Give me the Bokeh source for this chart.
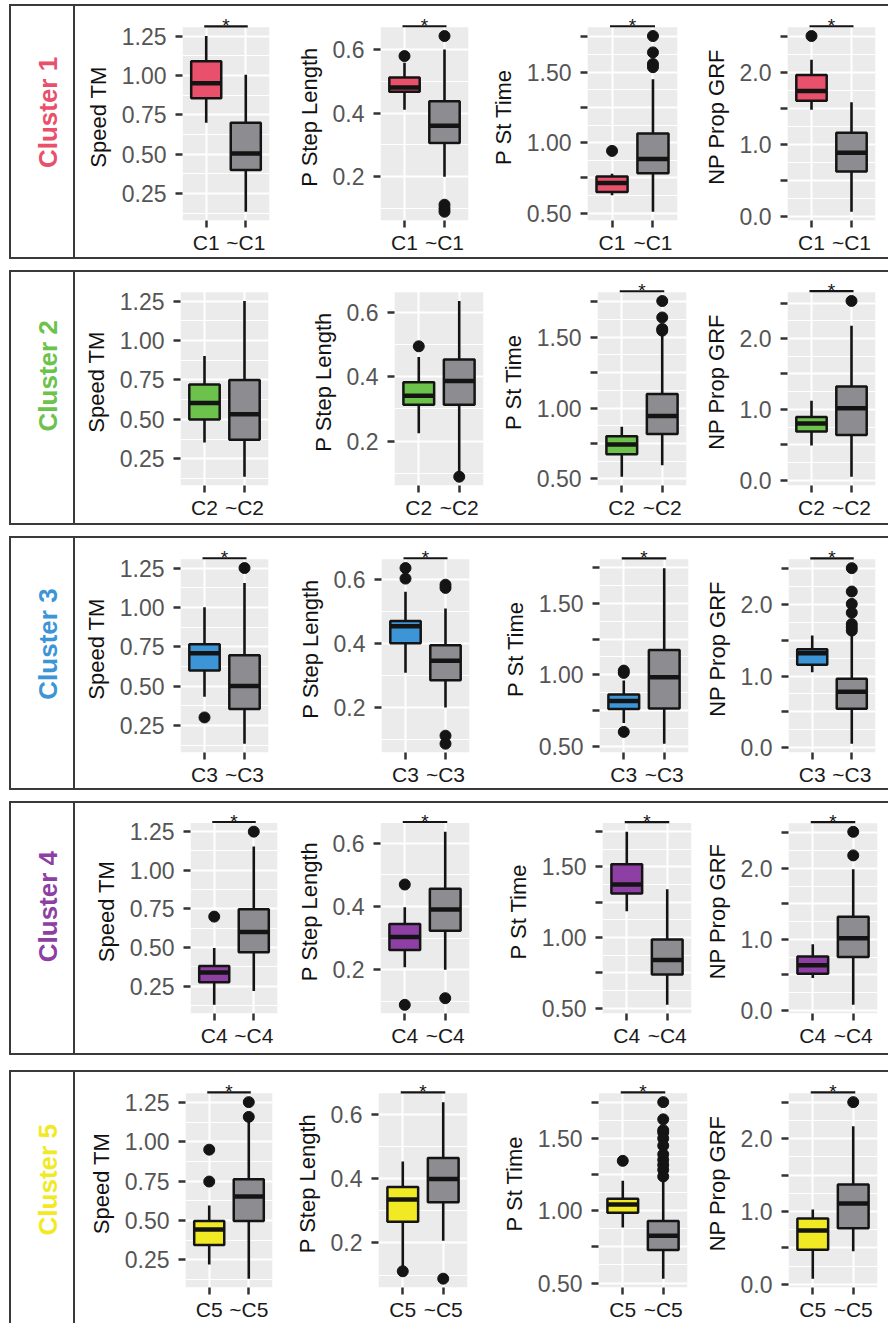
import math
from bokeh.plotting import figure
from bokeh.layouts import row, column
from bokeh.models import (Range1d, FixedTicker, CustomJSTickFormatter, Spacer,
                          BoxAnnotation, ColumnDataSource)
from bokeh.core.properties import value
from bokeh.embed import file_html
from bokeh.resources import INLINE
from bokeh.core.validation import silence
from bokeh.core.validation.warnings import MISSING_RENDERERS

silence(MISSING_RENDERERS, True)

# ---------------------------------------------------------------- data
clusters = ["Cluster 1", "Cluster 2", "Cluster 3", "Cluster 4", "Cluster 5"]
cluster_colors = ["#E8506B", "#6CC24A", "#3C95D6", "#8E3FA3", "#F2E925"]
rest_color = "#8C8C91"
group_labels = [["C1", "~C1"], ["C2", "~C2"], ["C3", "~C3"], ["C4", "~C4"], ["C5", "~C5"]]
variables = ["Speed TM", "P Step Length", "P St Time", "NP Prop GRF"]

# five-number summaries: [lower whisker, Q1, median, Q3, upper whisker]
speed_in = [
    [0.70, 0.855, 0.95, 1.09, 1.25],
    [0.354, 0.50, 0.604, 0.721, 0.902],
    [0.433, 0.60, 0.71, 0.767, 1.002],
    [0.129, 0.275, 0.338, 0.38, 0.497],
    [0.219, 0.344, 0.442, 0.497, 0.595],
]
speed_rest = [
    [0.135, 0.40, 0.505, 0.70, 1.005],
    [0.137, 0.371, 0.533, 0.75, 1.25],
    [0.135, 0.356, 0.502, 0.698, 1.156],
    [0.219, 0.47, 0.601, 0.748, 1.154],
    [0.129, 0.497, 0.652, 0.763, 1.129],
]
speed_in_outliers = [[], [], [0.302], [0.70], [0.951, 0.748]]
speed_rest_outliers = [[], [], [1.252], [1.25], [1.254, 1.16]]

step_in = [
    [0.41, 0.467, 0.48, 0.512, 0.558],
    [0.224, 0.313, 0.341, 0.383, 0.462],
    [0.308, 0.40, 0.453, 0.47, 0.561],
    [0.208, 0.262, 0.303, 0.344, 0.397],
    [0.122, 0.266, 0.335, 0.374, 0.453],
]
step_rest = [
    [0.20, 0.306, 0.36, 0.437, 0.60],
    [0.103, 0.313, 0.387, 0.454, 0.636],
    [0.20, 0.285, 0.346, 0.394, 0.509],
    [0.20, 0.323, 0.39, 0.456, 0.636],
    [0.207, 0.327, 0.399, 0.464, 0.638],
]
step_in_outliers = [[0.579], [0.495], [0.635, 0.602], [0.469, 0.089], [0.112]]
step_rest_outliers = [[0.642, 0.112, 0.10, 0.09], [0.089], [0.583, 0.573, 0.112, 0.087],
                      [0.110], [0.089]]

st_in = [
    [0.628, 0.651, 0.714, 0.76, 0.78],
    [0.516, 0.674, 0.743, 0.801, 0.868],
    [0.661, 0.76, 0.815, 0.861, 0.96],
    [1.185, 1.311, 1.374, 1.518, 1.748],
    [0.884, 0.986, 1.043, 1.082, 1.208],
]
st_rest = [
    [0.511, 0.783, 0.884, 1.065, 1.449],
    [0.597, 0.817, 0.944, 1.10, 1.51],
    [0.516, 0.764, 0.983, 1.174, 1.748],
    [0.523, 0.737, 0.84, 0.985, 1.341],
    [0.53, 0.728, 0.826, 0.929, 1.215],
]
st_in_outliers = [[0.942], [], [1.029, 1.013, 0.599], [], [1.345]]
st_rest_outliers = [[1.756, 1.64, 1.558, 1.535], [1.755, 1.639, 1.558, 1.546], [], [],
                    [1.751, 1.632, 1.557, 1.541, 1.50, 1.45, 1.39, 1.352, 1.317, 1.283, 1.237]]

grf_in = [
    [1.485, 1.61, 1.745, 1.97, 2.18],
    [0.493, 0.687, 0.802, 0.894, 1.124],
    [1.055, 1.159, 1.318, 1.377, 1.568],
    [0.455, 0.514, 0.636, 0.759, 0.932],
    [0.077, 0.475, 0.738, 0.905, 1.027],
]
grf_rest = [
    [0.07, 0.63, 0.89, 1.165, 1.59],
    [0.051, 0.641, 1.018, 1.323, 2.18],
    [0.055, 0.545, 0.782, 0.964, 1.614],
    [0.077, 0.75, 1.014, 1.318, 1.986],
    [0.452, 0.769, 1.109, 1.371, 2.172],
]
grf_in_outliers = [[2.51], [], [], [], []]
grf_rest_outliers = [[], [2.53], [2.509, 2.182, 2.009, 1.886, 1.727, 1.682, 1.636],
                     [2.514, 2.182], [2.502]]

significant = [[1, 1, 1, 1], [0, 0, 1, 1], [1, 1, 1, 1], [1, 1, 1, 1], [1, 1, 1, 1]]

speed_ticks = [0.25, 0.5, 0.75, 1.0, 1.25]
speed_tick_labels = ["0.25", "0.50", "0.75", "1.00", "1.25"]
speed_minor = [0.125, 0.375, 0.625, 0.875, 1.125]
step_ticks = [0.2, 0.4, 0.6]
step_tick_labels = ["0.2", "0.4", "0.6"]
step_minor = [0.1, 0.3, 0.5]
st_ticks = [0.5, 0.75, 1.0, 1.25, 1.5, 1.75]
st_tick_labels = ["0.50", "", "1.00", "", "1.50", ""]
st_minor = [0.625, 0.875, 1.125, 1.375, 1.625]
grf_ticks = [0.0, 0.5, 1.0, 1.5, 2.0, 2.5]
grf_tick_labels = ["0.0", "", "1.0", "", "2.0", ""]
grf_minor = [0.25, 0.75, 1.25, 1.75, 2.25]

series = [
    (speed_in, speed_rest, speed_in_outliers, speed_rest_outliers, speed_ticks, speed_tick_labels, speed_minor),
    (step_in, step_rest, step_in_outliers, step_rest_outliers, step_ticks, step_tick_labels, step_minor),
    (st_in, st_rest, st_in_outliers, st_rest_outliers, st_ticks, st_tick_labels, st_minor),
    (grf_in, grf_rest, grf_in_outliers, grf_rest_outliers, grf_ticks, grf_tick_labels, grf_minor),
]

# ---------------------------------------------------------------- layout / style
FONT = "Liberation Sans"
BORDER = "#3A3A3A"
LINE = "#141414"
PANEL_BG = "#EBEBEB"
BOX_W = 0.76
TOTAL_W = 888
EXTRA = 14          # px of white space inside the frame above the grey panel (for the * bar)

row_inner_top = [6, 272, 538, 803, 1072]
row_inner_bottom = [257, 523, 788, 1053, 1323]
row_gap_before = [4, 11, 11, 11, 15]
label_center_y = [126, 390, 657, 922, 1193]
# grey panels (left, right, top, bottom) in page pixels
frames = [
    [(182, 269, 27, 223), (380, 468, 24, 221), (587, 677, 23, 220), (787, 875, 24, 221)],
    [(180, 268, 289, 485), (394, 483, 292, 489), (597, 686, 288, 485), (787, 875, 288, 486)],
    [(180, 268, 559, 756), (381, 469, 559, 756), (599, 688, 558, 753), (788, 875, 558, 753)],
    [(190, 277, 823, 1021), (380, 469, 823, 1021), (602, 691, 820, 1017), (788, 877, 818, 1013)],
    [(185, 272, 1093, 1290), (378, 467, 1091, 1288), (598, 687, 1091, 1288), (788, 877, 1091, 1288)],
]


def tick_formatter(vals, labs):
    return CustomJSTickFormatter(args=dict(vals=list(vals), labs=list(labs)), code="""
        for (let i = 0; i < vals.length; i++) {
            if (Math.abs(vals[i] - tick) < 1e-6) { return labs[i]; }
        }
        return "";
    """)


def strip(w, h):
    return Spacer(width=w, height=h, styles={"background-color": BORDER})


def make_label(ci, top, bottom):
    p = figure(width=62, height=bottom - top, x_range=Range1d(11, 73),
               y_range=Range1d(bottom, top), toolbar_location=None, output_backend="svg",
               min_border=0, x_axis_location=None, y_axis_location=None, title=None,
               outline_line_color=None, background_fill_color="white")
    p.grid.visible = False
    p.text(x=[47], y=[label_center_y[ci]], text=[clusters[ci]], angle=math.pi / 2,
           text_align="center", text_baseline="middle", text_font=value(FONT),
           text_font_style="bold", text_font_size="26px", text_color=cluster_colors[ci])
    return p


def make_panel(ci, vi, x_left, x_right, top, bottom, frame):
    L, R, T, B = frame
    b_in, b_rest, o_in_all, o_rest_all, ticks, tick_labels, minor = series[vi]
    s_in, s_rest = b_in[ci], b_rest[ci]
    o_in, o_rest = o_in_all[ci], o_rest_all[ci]
    vals = s_in + s_rest + o_in + o_rest
    lo, hi = min(vals), max(vals)
    pad = 0.05 * (hi - lo)
    y_start, y_end = lo - pad, hi + pad
    per_px = (y_end - y_start) / (B - T)
    y_top = y_end + EXTRA * per_px

    p = figure(width=x_right - x_left, height=bottom - top,
               x_range=Range1d(0.4, 2.6), y_range=Range1d(y_start, y_top),
               toolbar_location=None, output_backend="svg", title=None,
               min_border_left=L - x_left, min_border_right=x_right - R,
               min_border_top=T - top - EXTRA, min_border_bottom=bottom - B,
               background_fill_color="white", border_fill_color="white",
               outline_line_color=None)
    # grey ggplot panel covering the data range only
    p.add_layout(BoxAnnotation(left=0.4, right=2.6, bottom=y_start, top=y_end,
                               fill_color=PANEL_BG, fill_alpha=1.0, line_color=None,
                               level="image"))

    xs = [1, 2]
    stats = [s_in, s_rest]
    src = ColumnDataSource(dict(
        x=xs,
        lw=[s[0] for s in stats], q1=[s[1] for s in stats], med=[s[2] for s in stats],
        q3=[s[3] for s in stats], uw=[s[4] for s in stats],
        left=[x - BOX_W / 2 for x in xs], right=[x + BOX_W / 2 for x in xs],
        fill=[cluster_colors[ci], rest_color],
    ))
    p.segment(x0="x", y0="q3", x1="x", y1="uw", source=src, line_color=LINE, line_width=2.6)
    p.segment(x0="x", y0="q1", x1="x", y1="lw", source=src, line_color=LINE, line_width=2.6)
    p.vbar(x="x", width=BOX_W, bottom="q1", top="q3", source=src, fill_color="fill",
           line_color=LINE, line_width=2.5)
    p.segment(x0="left", y0="med", x1="right", y1="med", source=src, line_color=LINE,
              line_width=4.5)
    ox = [1] * len(o_in) + [2] * len(o_rest)
    oy = o_in + o_rest
    if oy:
        p.scatter(ox, oy, size=11, color=LINE)

    if significant[ci][vi]:
        bar_y = y_end + per_px
        p.segment(x0=[0.95], y0=[bar_y], x1=[2.05], y1=[bar_y], line_color=LINE,
                  line_width=2.2)
        p.text(x=[1.5], y=[bar_y], text=["*"], text_align="center",
               text_baseline="alphabetic", y_offset=-1, text_font=value(FONT),
               text_font_size="19px", text_color=LINE)

    xa = p.xaxis[0]
    ya = p.yaxis[0]
    xa.ticker = FixedTicker(ticks=xs)
    xa.formatter = tick_formatter(xs, group_labels[ci])
    ya.ticker = FixedTicker(ticks=ticks, minor_ticks=minor)
    ya.formatter = tick_formatter(ticks, tick_labels)
    for ax in (xa, ya):
        ax.axis_line_color = None
        ax.major_tick_line_color = "#333333"
        ax.major_tick_line_width = 2.5
        ax.major_tick_in = 0
        ax.major_tick_out = 7
        ax.minor_tick_line_color = None
        ax.major_label_text_font = FONT
    ya.major_label_text_font_size = "23px"
    xa.major_label_text_font_size = "21px"
    xa.major_label_text_color = "#1A1A1A"
    xa.major_label_standoff = 3
    ya.major_label_text_color = "#555555"
    ya.major_label_standoff = 9
    ya.axis_label = variables[vi]
    ya.axis_label_text_font = FONT
    ya.axis_label_text_font_size = "22px"
    ya.axis_label_text_font_style = "normal"
    ya.axis_label_text_color = "#111111"
    ya.axis_label_standoff = 8

    p.xgrid.grid_line_color = "white"
    p.xgrid.grid_line_width = 2
    p.ygrid.grid_line_color = "white"
    p.ygrid.grid_line_width = 2
    p.ygrid.minor_grid_line_color = "white"
    p.ygrid.minor_grid_line_width = 1
    return p


items = []
for ci in range(len(clusters)):
    top, bottom = row_inner_top[ci], row_inner_bottom[ci]
    h = bottom - top
    items.append(Spacer(width=TOTAL_W, height=row_gap_before[ci]))
    items.append(row(Spacer(width=9, height=2), strip(TOTAL_W - 9, 2)))
    fr = frames[ci]
    bounds = [75, fr[0][1] + 8, fr[1][1] + 8, fr[2][1] + 8, TOTAL_W]
    panels = [make_panel(ci, vi, bounds[vi], bounds[vi + 1], top, bottom, fr[vi])
              for vi in range(4)]
    items.append(row(Spacer(width=9, height=h), strip(2, h), make_label(ci, top, bottom),
                     strip(2, h), *panels))
    if ci < len(clusters) - 1:
        items.append(row(Spacer(width=9, height=2), strip(TOTAL_W - 9, 2)))

root = column(*items)

open("out.html", "w").write(file_html(root, INLINE))
